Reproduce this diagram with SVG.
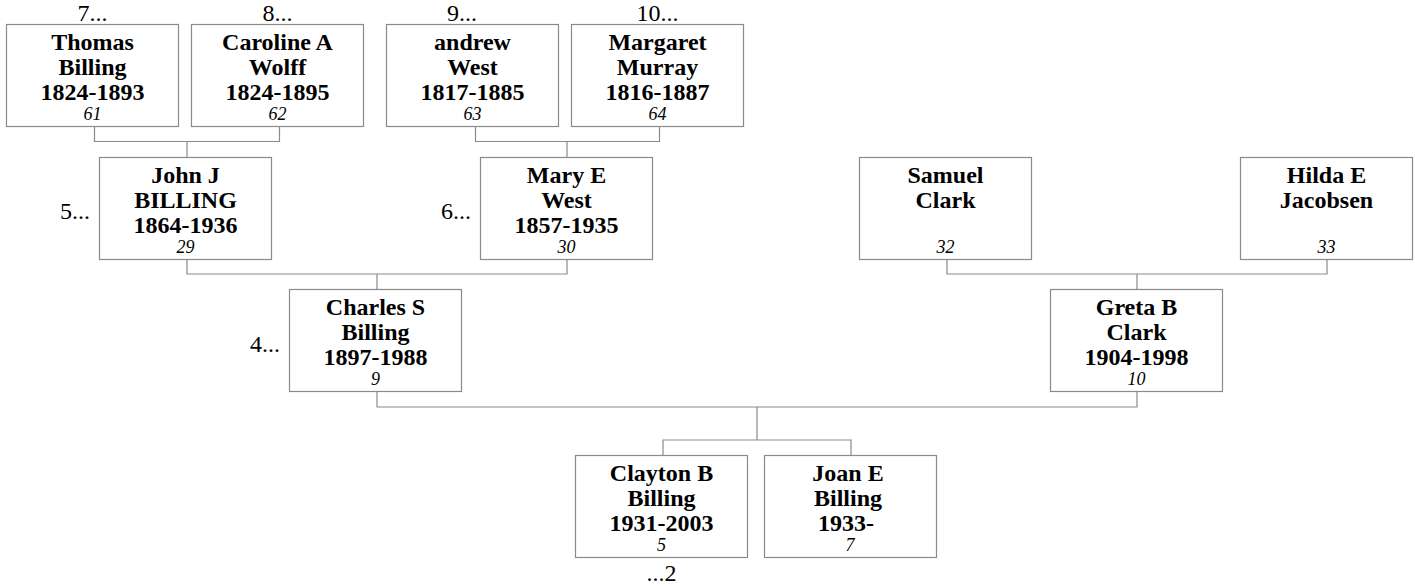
<svg xmlns="http://www.w3.org/2000/svg" width="1415" height="586" viewBox="0 0 1415 586">
<style>
.box{fill:#fff;stroke:#8a8a8a;stroke-width:1.2}
.nm{font-family:"Liberation Serif","Times New Roman",Times,serif;font-weight:bold;font-size:24px;text-anchor:middle;fill:#000}
.no{font-family:"Liberation Serif","Times New Roman",Times,serif;font-style:italic;font-size:18px;text-anchor:middle;fill:#000}
.lb{font-family:"Liberation Serif","Times New Roman",Times,serif;font-size:24px;fill:#000}
.c{fill:none;stroke:#8a8a8a;stroke-width:1.2}
</style>
<rect width="1415" height="586" fill="#fff"/>
<g id="connectors">
<path class="c" d="M94.5 127V141.5H279.5V127M187 141.5V157"/>
<path class="c" d="M475.5 127V141.5H659.5V127M567 141.5V157"/>
<path class="c" d="M187 259V274H567V259M377 274V289"/>
<path class="c" d="M947 259V274H1327V259M1137 274V289"/>
<path class="c" d="M377 392V407H1137V392M757 407V440"/>
<path class="c" d="M663 455V440H851V455"/>
</g>
<g id="n61">
<rect class="box" x="6.5" y="24.5" width="172" height="102"/>
<text class="nm" x="92.5" y="50">Thomas</text>
<text class="nm" x="92.5" y="75">Billing</text>
<text class="nm" x="92.5" y="100">1824-1893</text>
<text class="no" x="92.5" y="119.5">61</text>
<text class="lb" x="92.5" y="21" text-anchor="middle">7...</text>
</g>
<g id="n62">
<rect class="box" x="191.5" y="24.5" width="172" height="102"/>
<text class="nm" x="277.5" y="50">Caroline A</text>
<text class="nm" x="277.5" y="75">Wolff</text>
<text class="nm" x="277.5" y="100">1824-1895</text>
<text class="no" x="277.5" y="119.5">62</text>
<text class="lb" x="277.5" y="21" text-anchor="middle">8...</text>
</g>
<g id="n63">
<rect class="box" x="386.5" y="24.5" width="172" height="102"/>
<text class="nm" x="472.5" y="50">andrew</text>
<text class="nm" x="472.5" y="75">West</text>
<text class="nm" x="472.5" y="100">1817-1885</text>
<text class="no" x="472.5" y="119.5">63</text>
<text class="lb" x="462" y="21" text-anchor="middle">9...</text>
</g>
<g id="n64">
<rect class="box" x="571.5" y="24.5" width="172" height="102"/>
<text class="nm" x="657.5" y="50">Margaret</text>
<text class="nm" x="657.5" y="75">Murray</text>
<text class="nm" x="657.5" y="100">1816-1887</text>
<text class="no" x="657.5" y="119.5">64</text>
<text class="lb" x="657.5" y="21" text-anchor="middle">10...</text>
</g>
<g id="n29">
<rect class="box" x="99.5" y="157.5" width="172" height="102"/>
<text class="nm" x="185.5" y="183">John J</text>
<text class="nm" x="185.5" y="208">BILLING</text>
<text class="nm" x="185.5" y="233">1864-1936</text>
<text class="no" x="185.5" y="252.5">29</text>
<text class="lb" x="90" y="219" text-anchor="end">5...</text>
</g>
<g id="n30">
<rect class="box" x="480.5" y="157.5" width="172" height="102"/>
<text class="nm" x="566.5" y="183">Mary E</text>
<text class="nm" x="566.5" y="208">West</text>
<text class="nm" x="566.5" y="233">1857-1935</text>
<text class="no" x="566.5" y="252.5">30</text>
<text class="lb" x="471" y="219" text-anchor="end">6...</text>
</g>
<g id="n32">
<rect class="box" x="859.5" y="157.5" width="172" height="102"/>
<text class="nm" x="945.5" y="183">Samuel</text>
<text class="nm" x="945.5" y="208">Clark</text>
<text class="no" x="945.5" y="252.5">32</text>
</g>
<g id="n33">
<rect class="box" x="1240.5" y="157.5" width="172" height="102"/>
<text class="nm" x="1326.5" y="183">Hilda E</text>
<text class="nm" x="1326.5" y="208">Jacobsen</text>
<text class="no" x="1326.5" y="252.5">33</text>
</g>
<g id="n9">
<rect class="box" x="289.5" y="289.5" width="172" height="102"/>
<text class="nm" x="375.5" y="315">Charles S</text>
<text class="nm" x="375.5" y="340">Billing</text>
<text class="nm" x="375.5" y="365">1897-1988</text>
<text class="no" x="375.5" y="384.5">9</text>
<text class="lb" x="280" y="352" text-anchor="end">4...</text>
</g>
<g id="n10">
<rect class="box" x="1050.5" y="289.5" width="172" height="102"/>
<text class="nm" x="1136.5" y="315">Greta B</text>
<text class="nm" x="1136.5" y="340">Clark</text>
<text class="nm" x="1136.5" y="365">1904-1998</text>
<text class="no" x="1136.5" y="384.5">10</text>
</g>
<g id="n5">
<rect class="box" x="575.5" y="455.5" width="172" height="102"/>
<text class="nm" x="661.5" y="481">Clayton B</text>
<text class="nm" x="661.5" y="506">Billing</text>
<text class="nm" x="661.5" y="531">1931-2003</text>
<text class="no" x="661.5" y="550.5">5</text>
<text class="lb" x="661.5" y="581" text-anchor="middle">...2</text>
</g>
<g id="n7">
<rect class="box" x="764.5" y="455.5" width="172" height="102"/>
<text class="nm" x="848" y="481">Joan E</text>
<text class="nm" x="848" y="506">Billing</text>
<text class="nm" x="846" y="531">1933-</text>
<text class="no" x="850" y="550.5">7</text>
</g>
</svg>
